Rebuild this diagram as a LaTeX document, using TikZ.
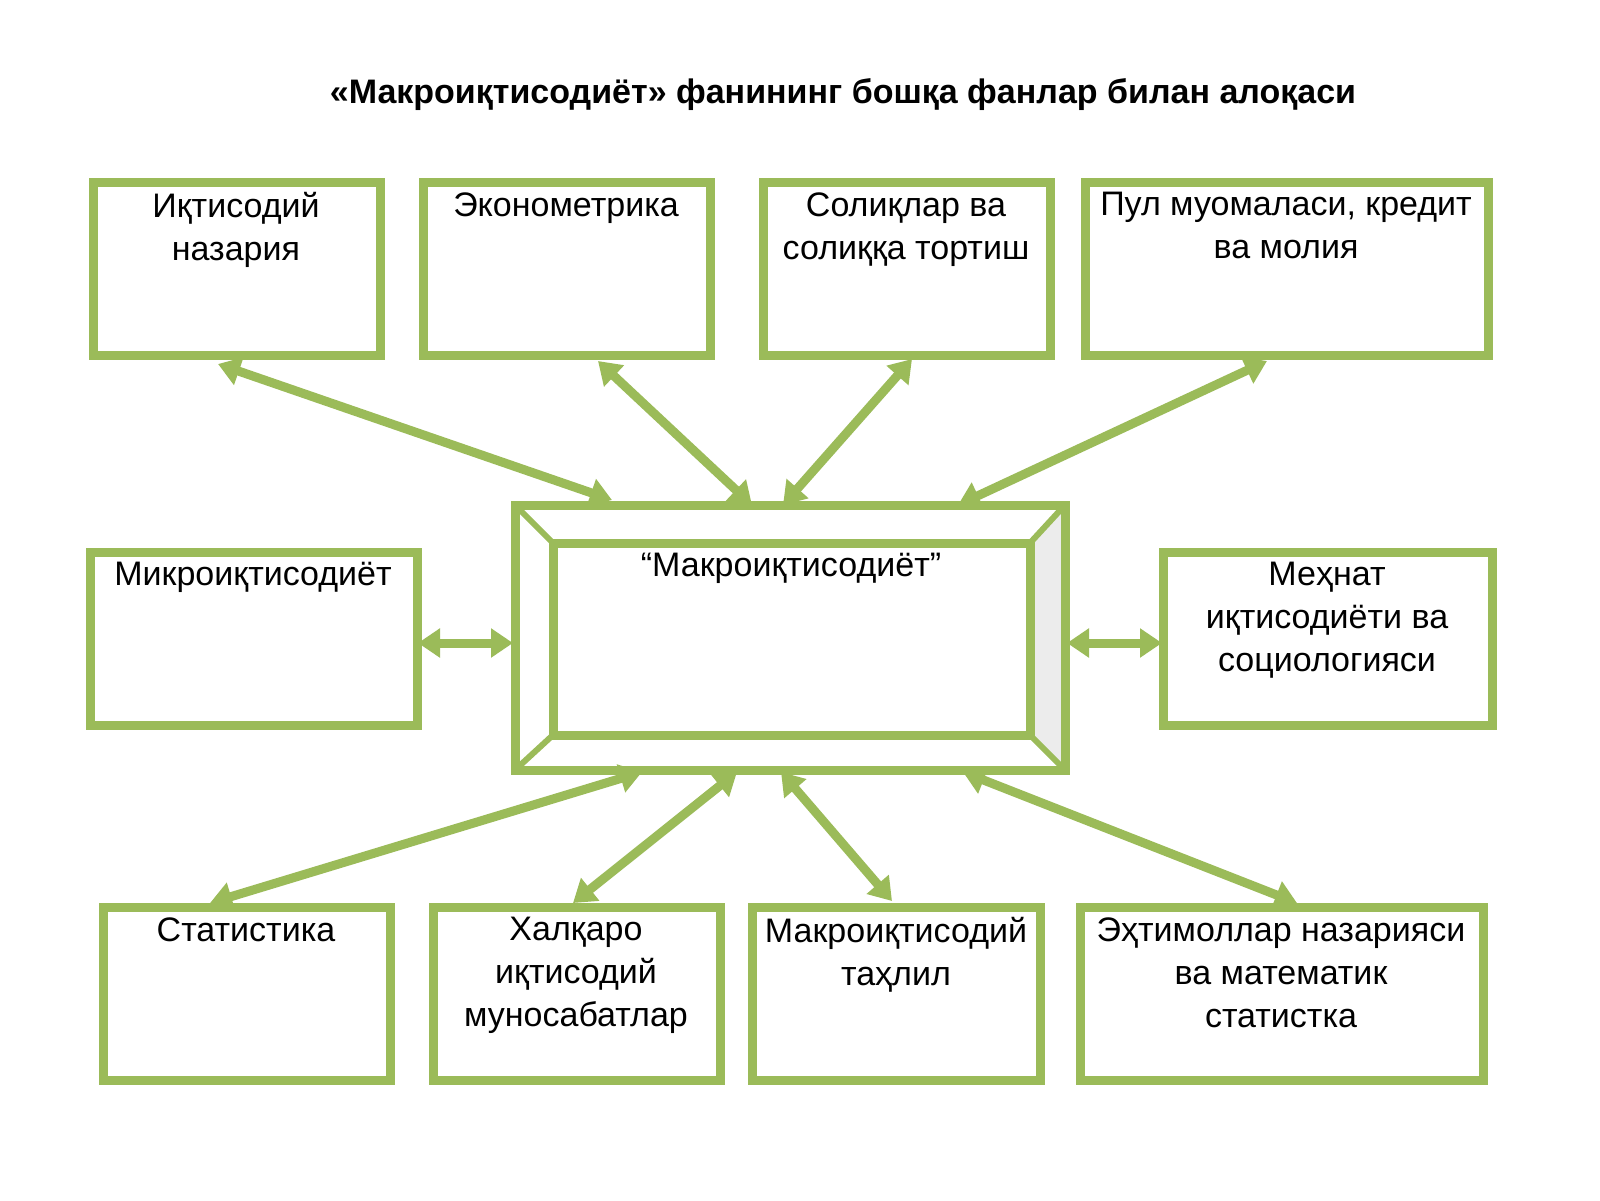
\documentclass[tikz,border=0pt]{standalone}
\usepackage{fontspec}
\setmainfont{Liberation Sans}
\usetikzlibrary{arrows.meta}
\definecolor{gr}{HTML}{9BBB59}
\begin{document}
\begin{tikzpicture}[x=0.5pt,y=-0.5pt,
 box/.style={draw=gr,line width=4.5pt},
 lab/.style={anchor=north,align=center,font=\fontsize{17}{21.5}\selectfont,inner sep=0pt},
 arr/.style={draw=gr,line width=4.5pt,{Triangle[width=14pt,length=11pt]}-{Triangle[width=14pt,length=11pt]}}]
\useasboundingbox (0,0) rectangle (1600,1200);
\node[font=\bfseries\fontsize{17}{20}\selectfont] (title) at (843,95) {«Макроиқтисодиёт» фанининг бошқа фанлар билан алоқаси};
% top
\draw[box] (93,182) rectangle (380,355); \node[lab] (t1) at (236,192) {Иқтисодий\\назария};
\draw[box] (423,182) rectangle (710,355); \node[lab] (t2) at (566,192) {Эконометрика};
\draw[box] (763,182) rectangle (1050,355); \node[lab] (t3) at (906,192) {Солиқлар ва\\солиққа тортиш};
\draw[box] (1085,182) rectangle (1488,355); \node[lab] (t4) at (1286,192) {Пул муомаласи, кредит\\ва молия};
% middle
\draw[box] (90,552) rectangle (417,725); \node[lab] (m1) at (253,562) {Микроиқтисодиёт};
\draw[box] (1163,552) rectangle (1492,725); \node[lab] (m2) at (1327,562) {Меҳнат\\иқтисодиёти ва\\социологияси};
% center frame
\fill[gray!15] (1030,543) -- (1065,505) -- (1065,770) -- (1030,735) -- cycle;
\draw[box] (515,505) rectangle (1065,770);
\draw[box] (553,543) rectangle (1030,735);
\draw[draw=gr,line width=3pt] (515,505)--(553,543) (1065,505)--(1030,543) (515,770)--(553,735) (1065,770)--(1030,735);
\node[lab] (c) at (791,553) {“Макроиқтисодиёт”};
% bottom
\draw[box] (103,907) rectangle (390,1080); \node[lab] (b1) at (246,917) {Статистика};
\draw[box] (433,907) rectangle (720,1080); \node[lab] (b2) at (576,917) {Халқаро\\иқтисодий\\муносабатлар};
\draw[box] (752,907) rectangle (1040,1080); \node[lab] (b3) at (896,917) {Макроиқтисодий\\таҳлил};
\draw[box] (1080,907) rectangle (1483,1080); \node[lab] (b4) at (1281,917) {Эҳтимоллар назарияси\\ва математик\\статистка};
% arrow ends
\coordinate (a1) at (218,364); \coordinate (a1e) at (612,500);
\coordinate (a2) at (598,361); \coordinate (a2e) at (752,505);
\coordinate (a3) at (912,359); \coordinate (a3e) at (783,505);
\coordinate (a4) at (1267,361); \coordinate (a4e) at (958,505);
\coordinate (l1) at (418,643); \coordinate (l2) at (513,643);
\coordinate (r1) at (1067,643); \coordinate (r2) at (1162,643);
\coordinate (d1) at (642,772); \coordinate (d1e) at (210,903);
\coordinate (d2) at (737,772); \coordinate (d2e) at (573,903);
\coordinate (d3) at (781,772); \coordinate (d3e) at (892,901);
\coordinate (d4) at (963,772); \coordinate (d4e) at (1297,903);
\foreach \p/\q in {a1/a1e,a2/a2e,a3/a3e,a4/a4e,l1/l2,r1/r2,d1/d1e,d2/d2e,d3/d3e,d4/d4e}
  \draw[arr] (\p) -- (\q);
\end{tikzpicture}
\end{document}
